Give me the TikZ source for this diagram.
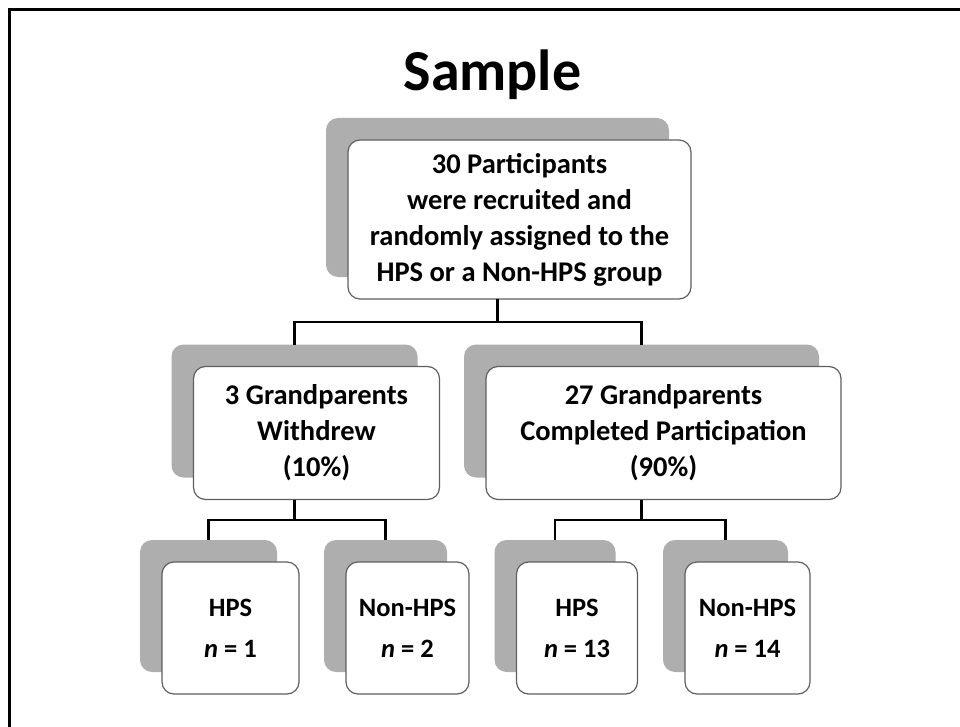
\documentclass[tikz,border=0pt]{standalone}
\usepackage{fontspec}
\setmainfont{Carlito}
\usetikzlibrary{calc}
\definecolor{shgray}{RGB}{174,174,174}
\definecolor{rimgray}{RGB}{95,95,95}
\tikzstyle{shd}=[fill=shgray,rounded corners=12pt,inner sep=0,outer sep=0]
\tikzstyle{bx}=[draw=rimgray,fill=white,line width=1.2pt,rounded corners=12pt,
                inner sep=0,outer sep=0,align=center,
                font=\fontsize{28.5}{36}\selectfont\bfseries]
\tikzstyle{lf}=[bx,font=\fontsize{26.5}{41}\selectfont\bfseries]
\tikzstyle{ln}=[draw=black,line width=2.5pt]

\begin{document}
\begin{tikzpicture}[x=1pt,y=-1pt]
\useasboundingbox (0,0) rectangle (960,727);
\draw[line width=3pt] (9,740) -- (9,10) -- (975,10);
\node (ttl) at (492.5,75) {\fontsize{58}{60}\selectfont\bfseries Sample};
\node[shd,minimum width=343pt,minimum height=159pt] (topS) at (497.5,197.5) {};
\node[shd,minimum width=246pt,minimum height=133pt] (wdS) at (294.5,411) {};
\node[shd,minimum width=355pt,minimum height=133pt] (cpS) at (641.5,411) {};
\node[shd,minimum width=137pt,minimum height=132pt] (wh1S) at (208.5,606) {};
\node[shd,minimum width=123pt,minimum height=132pt] (wn1S) at (385.5,606) {};
\node[shd,minimum width=121pt,minimum height=132pt] (ch1S) at (555,606) {};
\node[shd,minimum width=125pt,minimum height=132pt] (cn1S) at (725.5,606) {};
\node[bx,minimum width=343pt,minimum height=159pt] (top) at (519.5,219.5)
  {30 Participants\\were recruited and\\randomly assigned to the\\HPS or a Non-HPS group};
\node[bx,minimum width=246pt,minimum height=133pt] (wd) at (316.5,433)
  {3 Grandparents\\Withdrew\\(10\%)};
\node[bx,minimum width=355pt,minimum height=133pt] (cp) at (663.5,433)
  {27 Grandparents\\Completed Participation\\(90\%)};
\node[lf,minimum width=137pt,minimum height=132pt] (wh1) at (230.5,628) {HPS\\\textit{n} = 1};
\node[lf,minimum width=123pt,minimum height=132pt] (wn1) at (407.5,628) {Non-HPS\\\textit{n} = 2};
\node[lf,minimum width=121pt,minimum height=132pt] (ch1) at (577,628) {HPS\\\textit{n} = 13};
\node[lf,minimum width=125pt,minimum height=132pt] (cn1) at (747.5,628) {Non-HPS\\\textit{n} = 14};
\coordinate (j1) at ($(top.south)!.5!(wdS.north)$);
\coordinate (j2) at ($(wd.south)!.5!(wh1S.north)$);
\coordinate (j3) at ($(cp.south)!.5!(ch1S.north)$);
\draw[ln] (topS.south |- top.south) -- (topS.south |- j1) -| (wdS.north);
\draw[ln] (topS.south |- j1) -| (cpS.north);
\draw[ln] (wdS.south |- wd.south) -- (wdS.south |- j2) -| (wh1S.north);
\draw[ln] (wdS.south |- j2) -| (wn1S.north);
\draw[ln] (cpS.south |- cp.south) -- (cpS.south |- j3) -| (ch1S.north);
\draw[ln] (cpS.south |- j3) -| (cn1S.north);
\end{tikzpicture}
\end{document}
